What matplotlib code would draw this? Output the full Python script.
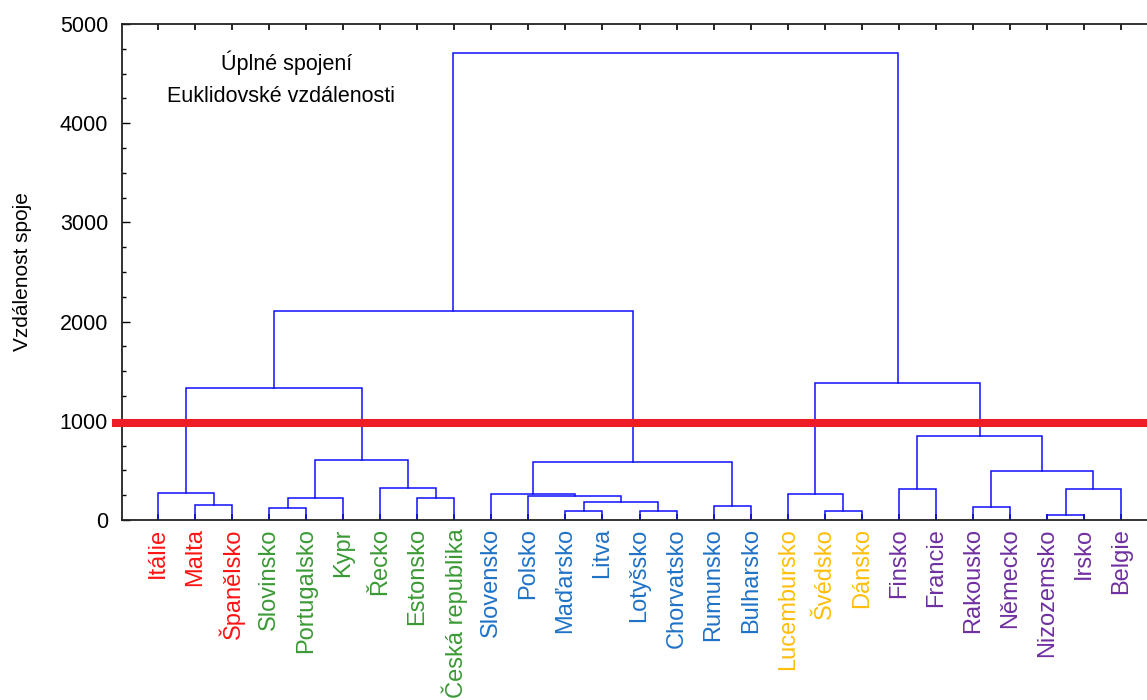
import matplotlib
matplotlib.use("Agg")
import matplotlib.pyplot as plt
from matplotlib.ticker import MultipleLocator

plt.rcParams['font.family'] = ['Liberation Sans', 'DejaVu Sans']

# listy (poradi zleva doprava)
staty = ['Itálie', 'Malta', 'Španělsko', 'Slovinsko', 'Portugalsko', 'Kypr', 'Řecko',
         'Estonsko', 'Česká republika', 'Slovensko', 'Polsko', 'Maďarsko', 'Litva',
         'Lotyšsko', 'Chorvatsko', 'Rumunsko', 'Bulharsko', 'Lucembursko', 'Švédsko',
         'Dánsko', 'Finsko', 'Francie', 'Rakousko', 'Německo', 'Nizozemsko', 'Irsko', 'Belgie']
shluk = [0, 0, 0, 1, 1, 1, 1, 1, 1, 2, 2, 2, 2, 2, 2, 2, 2, 3, 3, 3, 4, 4, 4, 4, 4, 4, 4]
barvy_shluku = ['#ff1414', '#3a9a35', '#1f72c6', '#ffbe0a', '#7030a0']

# spojeni: nove shluky maji cisla 27, 28, ... v tomto poradi
spoj_a = [24, 11, 13, 18, 3, 22, 15, 1, 28, 31, 7, 10, 17, 9, 0, 20, 27, 6, 32, 36, 40, 42, 41, 39, 49, 51]
spoj_b = [25, 12, 14, 19, 4, 23, 16, 2, 29, 5, 8, 35, 30, 38, 34, 21, 26, 37, 43, 44, 33, 45, 46, 48, 47, 50]
vzdalenost = [53, 94, 94, 94, 118, 134, 138, 151, 178, 219, 219, 239, 259, 262, 275,
              316, 316, 326, 494, 605, 585, 847, 1327, 1381, 2107, 4708]
rez = 980

fig = plt.figure(figsize=(11.47, 7), dpi=100)
ax = fig.add_axes([122 / 1147, 180 / 700, 1 - 122 / 1147, 496 / 700])

n = len(staty)
pozice = {i: i + 1 for i in range(n)}
vyska = {i: 0 for i in range(n)}
for k in range(len(spoj_a)):
    a, b, h = spoj_a[k], spoj_b[k], vzdalenost[k]
    xa, xb = pozice[a], pozice[b]
    ax.plot([xa, xa, xb, xb], [vyska[a], h, h, vyska[b]], color='#1010ff', lw=1.1,
            solid_joinstyle='miter', zorder=2)
    pozice[n + k] = (xa + xb) / 2
    vyska[n + k] = h

ax.axhline(rez, xmin=-0.006, xmax=1, color='#ee1c25', lw=5.8, clip_on=False, zorder=3)

ax.set_xlim(0.028, 27.70)
ax.set_ylim(0, 5000)
ax.set_xticks(range(1, n + 1))
ax.set_xticklabels(staty, rotation=90, fontsize=17)
for lab, s in zip(ax.get_xticklabels(), shluk):
    lab.set_color(barvy_shluku[s])
ax.yaxis.set_major_locator(MultipleLocator(1000))
ax.yaxis.set_minor_locator(MultipleLocator(250))
ax.tick_params(axis='y', which='major', direction='in', length=6, width=1, labelsize=15.5, pad=10)
ax.tick_params(axis='y', which='minor', direction='in', length=3, width=1)
ax.tick_params(axis='x', direction='in', length=4, width=1.2, top=True, pad=6)
for s in ['left', 'bottom', 'top']:
    ax.spines[s].set_linewidth(1.3)
    ax.spines[s].set_color('#222222')
ax.spines['right'].set_visible(False)

ax.set_ylabel('Vzdálenost spoje', fontsize=15, labelpad=20)

fig.text(287 / 1147, 1 - 63 / 700, 'Úplné spojení', fontsize=15.5, ha='center', va='center')
fig.text(281 / 1147, 1 - 96 / 700, 'Euklidovské vzdálenosti', fontsize=15.5, ha='center', va='center')

fig.savefig('out.png', dpi=100)
